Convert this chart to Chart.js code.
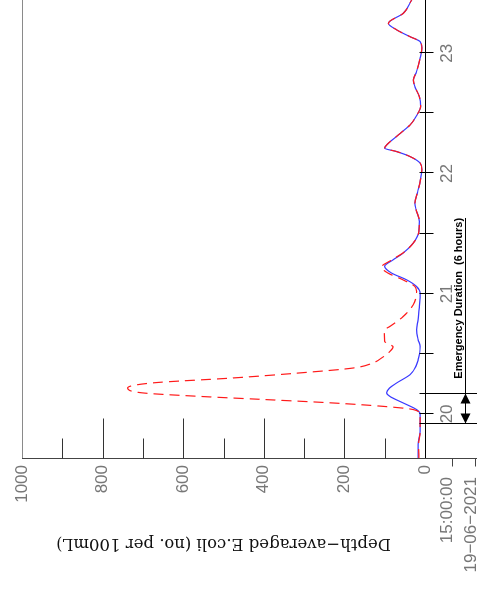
<!DOCTYPE html>
<html>
<head>
<meta charset="utf-8">
<script src="https://cdn.jsdelivr.net/npm/chart.js@4/dist/chart.umd.min.js"></script>
<style>
  html, body { margin: 0; padding: 0; background: #fff; overflow: hidden; }
  /* the plot is drawn upright and then turned a quarter turn anticlockwise */
  #wrap {
    position: absolute; left: 0; top: 0; width: 603px; height: 477px;
    transform-origin: 0 0; transform: translate(0px, 603px) rotate(-90deg);
  }
</style>
</head>
<body>
<div id="wrap"><canvas id="ecoliChart" width="603" height="477"></canvas></div>
<script>
// time in days from 20-06-2021 00:00
const timeStart = -0.375;   // 19-06-2021 15:00:00
const timeEnd = 3.443;
const dayTicks = [0, 0.5, 1, 1.5, 2, 2.5, 3];
const dayLabels = ['20', '', '21', '', '22', '', '23'];
const startLabel = ['15:00:00', '19\u221206\u22122021'];

const valueLabels = [0, 200, 400, 600, 800, 1000];
const minorValues = [100, 300, 500, 700, 900];
const majorValues = [200, 400, 600, 800];

const emergencyStart = -2 / 24;
const emergencyEnd = 4 / 24;
const emergencyLabelEnd = 1.63;
const emergencyText = 'Emergency Duration  (6 hours)';

const blueTimes = [-0.375, -0.255, -0.144, -0.006, 0.036, 0.091, 0.146, 0.175, 0.215, 0.258,
  0.327, 0.40, 0.451, 0.51, 0.562, 0.617, 0.70, 0.784, 0.894, 1.004,
  1.060, 1.116, 1.172, 1.227, 1.282, 1.338, 1.421, 1.518, 1.601, 1.698,
  1.753, 1.850, 1.933, 2.030, 2.086, 2.141, 2.182, 2.211, 2.238, 2.321,
  2.404, 2.48, 2.556, 2.639, 2.722, 2.778, 2.847, 2.961, 3.044, 3.096,
  3.138, 3.194, 3.249, 3.332, 3.443];
const blueValues = [17, 17, 12, 12, 21, 54, 87, 95, 88, 70,
  37, 22, 17, 13, 12, 17, 21, 17, 14, 12,
  21, 46, 83, 100, 79, 54, 29, 15, 14, 22,
  25, 18, 12, 8, 12, 37, 70, 100, 95, 66,
  37, 21, 11, 14, 25, 29, 21, 12, 8, 12,
  37, 70, 91, 54, 33];

const redTimes = [-0.375, -0.255, -0.144, -0.006, 0.036, 0.063, 0.091, 0.119, 0.146, 0.175,
  0.216, 0.258, 0.299, 0.341, 0.382, 0.424, 0.465, 0.52, 0.557, 0.603,
  0.66, 0.70, 0.728, 0.811, 0.908, 1.019, 1.06, 1.116, 1.172, 1.22,
  1.282, 1.338, 1.421, 1.518, 1.601, 1.698, 1.753, 1.850, 1.933, 2.030,
  2.086, 2.141, 2.182, 2.211, 2.238, 2.321, 2.404, 2.48, 2.556, 2.639,
  2.722, 2.778, 2.847, 2.961, 3.044, 3.096, 3.138, 3.194, 3.249, 3.332,
  3.443];
const redValues = [15, 16, 12, 12, 29, 104, 228, 394, 560, 701,
  738, 676, 477, 311, 178, 129, 108, 87, 79, 100,
  101, 100, 87, 54, 29, 21, 25, 55, 92, 108,
  82, 55, 29, 15, 14, 22, 25, 18, 12, 8,
  12, 37, 70, 100, 95, 66, 37, 21, 11, 14,
  25, 29, 21, 12, 8, 12, 37, 70, 91, 54,
  33];

const tickFont = { family: '"Liberation Sans", Arial, sans-serif', size: 17 };

function line(ctx, x1, y1, x2, y2) {
  ctx.beginPath();
  ctx.moveTo(x1, y1);
  ctx.lineTo(x2, y2);
  ctx.stroke();
}

// axis box, inside ticks, start date and the emergency marker
const decorations = {
  id: 'decorations',
  afterDraw(chart) {
    const { ctx, chartArea: a, scales: { x, y } } = chart;
    const H = chart.height;
    const L = Math.round(a.left) + 0.5;
    const B = Math.round(a.bottom) + 0.5;
    ctx.save();
    ctx.lineWidth = 1;

    ctx.strokeStyle = '#8a8a8a';
    line(ctx, a.left, Math.round(a.top) + 0.5, a.right, Math.round(a.top) + 0.5);
    ctx.strokeStyle = '#444';
    line(ctx, L, a.top, L, H);
    line(ctx, L - 8, B + 27, L, B + 27);
    line(ctx, L - 8, H - 1.5, L, H - 1.5);

    ctx.strokeStyle = '#333';
    majorValues.forEach(v => {
      const py = Math.round(y.getPixelForValue(v)) + 0.5;
      line(ctx, L, py, L + 40, py);
    });
    minorValues.forEach(v => {
      const py = Math.round(y.getPixelForValue(v)) + 0.5;
      line(ctx, L, py, L + 20, py);
    });

    ctx.strokeStyle = '#000';
    dayTicks.forEach(v => {
      const px = Math.round(x.getPixelForValue(v)) + 0.5;
      line(ctx, px, B - 6, px, B + 8);
    });

    ctx.fillStyle = '#777';
    ctx.font = '17px "Liberation Sans", Arial, sans-serif';
    ctx.textAlign = 'right';
    ctx.textBaseline = 'middle';
    const sx = x.getPixelForValue(timeStart) - 18;
    ctx.fillText(startLabel[0], sx, B + 22);
    ctx.fillText(startLabel[1], sx, B + 46);

    const xs = Math.round(x.getPixelForValue(emergencyStart)) + 0.5;
    const xe = Math.round(x.getPixelForValue(emergencyEnd)) + 0.5;
    const xl = x.getPixelForValue(emergencyLabelEnd);
    const ya = B + 40;
    ctx.strokeStyle = '#000';
    line(ctx, xs, B - 6, xs, H);
    line(ctx, xe, B - 6, xe, H);
    line(ctx, xs, ya, xl, ya);
    ctx.fillStyle = '#000';
    ctx.beginPath();
    ctx.moveTo(xs, ya); ctx.lineTo(xs + 10, ya - 5); ctx.lineTo(xs + 10, ya + 5); ctx.closePath();
    ctx.fill();
    ctx.beginPath();
    ctx.moveTo(xe, ya); ctx.lineTo(xe - 10, ya - 5); ctx.lineTo(xe - 10, ya + 5); ctx.closePath();
    ctx.fill();

    ctx.font = 'bold 11px "Liberation Sans", Arial, sans-serif';
    ctx.textAlign = 'right';
    ctx.textBaseline = 'alphabetic';
    ctx.fillText(emergencyText, xl, ya - 4);
    ctx.restore();
  }
};

const ctx = document.getElementById('ecoliChart').getContext('2d');
new Chart(ctx, {
  type: 'line',
  data: {
    datasets: [
      {
        label: 'With emergency overflow',
        data: redTimes.map((t, i) => ({ x: t, y: redValues[i] })),
        borderColor: '#ff1a1a',
        borderWidth: 1.2,
        borderDash: [10, 6],
        pointRadius: 0,
        cubicInterpolationMode: 'monotone',
        order: 0,
      },
      {
        label: 'Without emergency overflow',
        data: blueTimes.map((t, i) => ({ x: t, y: blueValues[i] })),
        borderColor: '#3a3aff',
        borderWidth: 1.2,
        pointRadius: 0,
        cubicInterpolationMode: 'monotone',
        order: 1,
      },
    ],
  },
  options: {
    responsive: false,
    animation: false,
    devicePixelRatio: 1,
    layout: { padding: { top: 22, right: 0, bottom: 0, left: 0 } },
    plugins: {
      legend: { display: false },
      tooltip: { enabled: false },
    },
    scales: {
      x: {
        type: 'linear',
        min: timeStart,
        max: timeEnd,
        afterFit: s => { s.height = 52; },
        afterBuildTicks: s => { s.ticks = dayTicks.map(v => ({ value: v })); },
        grid: { display: false, drawTicks: false },
        border: { display: true, color: '#000', width: 1 },
        ticks: {
          autoSkip: false,
          maxRotation: 0,
          padding: 12,
          color: '#777',
          font: tickFont,
          callback: v => dayLabels[dayTicks.indexOf(v)],
        },
      },
      y: {
        min: 0,
        max: 1000,
        afterFit: s => { s.width = 144; },
        afterBuildTicks: s => { s.ticks = valueLabels.map(v => ({ value: v })); },
        grid: { display: false, drawTicks: false },
        border: { display: false },
        ticks: {
          padding: 6,
          color: '#777',
          font: tickFont,
          callback: v => String(v),
        },
        title: {
          display: true,
          text: 'Depth\u2212averaged E.coli (no. per 100mL)',
          color: '#111',
          font: { family: '"DejaVu Serif", serif', size: 16.5 },
          padding: { top: 50 },
        },
      },
    },
  },
  plugins: [decorations],
});
</script>
</body>
</html>
